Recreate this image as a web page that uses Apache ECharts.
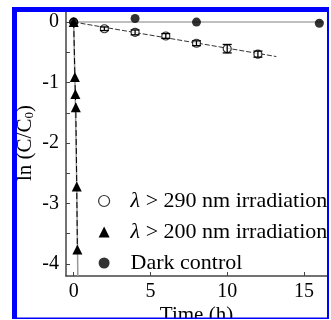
<!DOCTYPE html>
<html>
<head>
<meta charset="utf-8">
<script src="https://cdn.jsdelivr.net/npm/echarts@6/dist/echarts.min.js"></script>
<style>
html,body{margin:0;padding:0;background:#fff;}
#c{width:331px;height:320px;}
</style>
</head>
<body>
<div id="c"></div>
<script>
// ---- data ----
const xTickValues = [0, 5, 10, 15];
const yTickValues = [-4, -3, -2, -1, 0];
const yMinorTickValues = [-4, -3.5, -3, -2.5, -2, -1.5, -1, -0.5, 0];

const t290 = [0, 2, 4, 6, 8, 10, 12];
const v290 = [0, -0.11, -0.17, -0.23, -0.35, -0.44, -0.53];
const e290 = [0, 0.03, 0.04, 0.04, 0.04, 0.07, 0.05];
const fitT290 = [0, 13.2];
const fitV290 = [0, -0.57];

const t200 = [0, 0.08, 0.11, 0.14, 0.2, 0.24];
const v200 = [0, -0.91, -1.19, -1.41, -2.72, -3.76];
const fitT200 = [0, 0.1, 0.2, 0.27];
const fitV200 = [0, -1.2, -2.7, -4.2];

const tDark = [0, 4, 8, 16];
const vDark = [0, 0.06, 0, -0.02];
const fitTDark = [0, 16.3];
const fitVDark = [0, 0];

const names = ['\u03bb > 290 nm irradiation', '\u03bb > 200 nm irradiation', 'Dark control'];

// ---- build ----
const zip = (a, b) => a.map((v, i) => [v, b[i]]);
const FONT = '"Liberation Serif","DejaVu Serif",serif';
const W = 331, H = 320;
const BLUE = '#0000ff';

const chart = echarts.init(document.getElementById('c'), null, {renderer: 'canvas'});
chart.setOption({
  animation: false,
  backgroundColor: '#fff',
  grid: {left: 66, right: 4, top: 10, bottom: 44, containLabel: false, outerBoundsMode: 'none'},
  xAxis: {
    type: 'value', min: -0.5, max: 16.5,
    name: 'Time (h)', nameLocation: 'middle', nameGap: 29, nameMoveOverlap: false,
    nameTextStyle: {fontFamily: FONT, fontSize: 21, color: '#000'},
    axisLine: {show: true, onZero: false, lineStyle: {color: '#444', width: 1.5}},
    axisTick: {show: true, inside: true, length: 4, customValues: xTickValues, lineStyle: {color: '#444'}},
    axisLabel: {customValues: xTickValues, fontFamily: FONT, fontSize: 20, color: '#000', margin: 6},
    splitLine: {show: false}
  },
  yAxis: {
    type: 'value', min: -4.2, max: 0.2,
    name: 'ln (C/C{s|0})', nameLocation: 'middle', nameGap: 30, nameRotate: 90, nameMoveOverlap: false,
    nameTextStyle: {fontFamily: FONT, fontSize: 21, color: '#000',
      rich: {s: {fontFamily: FONT, fontSize: 13, verticalAlign: 'bottom', color: '#000'}}},
    axisLine: {show: true, onZero: false, lineStyle: {color: '#444', width: 1.5}},
    axisTick: {show: true, inside: true, length: 4, customValues: yMinorTickValues, lineStyle: {color: '#444'}},
    axisLabel: {customValues: yTickValues, fontFamily: FONT, fontSize: 20, color: '#000', margin: 7,
      formatter: v => String(v)},
    splitLine: {show: false}
  },
  legend: {
    orient: 'vertical', left: 93, top: 185, itemGap: 9,
    itemWidth: 11, itemHeight: 11,
    textStyle: {fontFamily: FONT, fontSize: 22, color: '#000', padding: [0, 0, 0, 16],
      rich: {i: {fontFamily: FONT, fontSize: 22, fontStyle: 'italic', color: '#000'}}},
    formatter: n => n.replace('\u03bb', '{i|\u03bb}'),
    data: [
      {name: names[0], icon: 'circle', itemStyle: {color: '#fff', borderColor: '#000', borderWidth: 1.2}},
      {name: names[1], icon: 'triangle', itemStyle: {color: '#000'}},
      {name: names[2], icon: 'circle', itemStyle: {color: '#000'}}
    ]
  },
  series: [
    {type: 'line', data: zip(fitTDark, fitVDark), symbol: 'none', silent: true,
      lineStyle: {color: '#aaa', width: 1.5}, z: 1},
    {type: 'line', data: zip(fitT200, fitV200), symbol: 'none', silent: true,
      lineStyle: {color: '#999', width: 1.5}, z: 1},
    {type: 'line', data: zip(fitT290, fitV290), symbol: 'none', silent: true,
      lineStyle: {color: '#333', width: 1, type: [5, 2]}, z: 2},
    {name: names[0], type: 'scatter', data: zip(t290, v290), symbol: 'circle', symbolSize: 8,
      itemStyle: {color: '#fff', borderColor: '#000', borderWidth: 1.2}, z: 3},
    {type: 'custom', silent: true, z: 4,
      data: t290.map((t, i) => [t, v290[i], e290[i]]),
      renderItem: function (params, api) {
        const x = api.value(0), y = api.value(1), e = api.value(2);
        if (!e) return null;
        const top = api.coord([x, y + e]);
        const bot = api.coord([x, y - e]);
        const hw = 4.5;
        const st = {stroke: '#000', lineWidth: 1.3};
        return {type: 'group', children: [
          {type: 'line', shape: {x1: top[0], y1: top[1], x2: bot[0], y2: bot[1]}, style: st},
          {type: 'line', shape: {x1: top[0] - hw, y1: top[1], x2: top[0] + hw, y2: top[1]}, style: st},
          {type: 'line', shape: {x1: bot[0] - hw, y1: bot[1], x2: bot[0] + hw, y2: bot[1]}, style: st}
        ]};
      }
    },
    {name: names[1], type: 'line', data: zip(t200, v200), symbol: 'triangle', symbolSize: 10,
      showSymbol: true, itemStyle: {color: '#000'},
      lineStyle: {color: '#000', width: 1, type: [6, 3]}, z: 5},
    {name: names[2], type: 'scatter', data: zip(tDark, vDark), symbol: 'circle', symbolSize: 9,
      itemStyle: {color: '#000'}, z: 6}
  ],
  graphic: [
    {type: 'rect', shape: {x: 0, y: 0, width: 12, height: H}, style: {fill: '#fff'}, z: 100, silent: true},
    {type: 'rect', shape: {x: 0, y: 0, width: W, height: 7}, style: {fill: '#fff'}, z: 100, silent: true},
    {type: 'rect', shape: {x: 329, y: 0, width: 2, height: H}, style: {fill: '#fff'}, z: 100, silent: true},
    {type: 'rect', shape: {x: 0, y: 319, width: W, height: 1}, style: {fill: '#fff'}, z: 100, silent: true},
    {type: 'rect', shape: {x: 12, y: 7, width: 5, height: 312}, style: {fill: BLUE}, z: 101, silent: true},
    {type: 'rect', shape: {x: 12, y: 7, width: 317, height: 5}, style: {fill: BLUE}, z: 101, silent: true},
    {type: 'rect', shape: {x: 327, y: 7, width: 2, height: 312}, style: {fill: BLUE}, z: 101, silent: true},
    {type: 'rect', shape: {x: 12, y: 317.5, width: 317, height: 1.5}, style: {fill: BLUE}, z: 101, silent: true}
  ]
});
</script>
</body>
</html>
